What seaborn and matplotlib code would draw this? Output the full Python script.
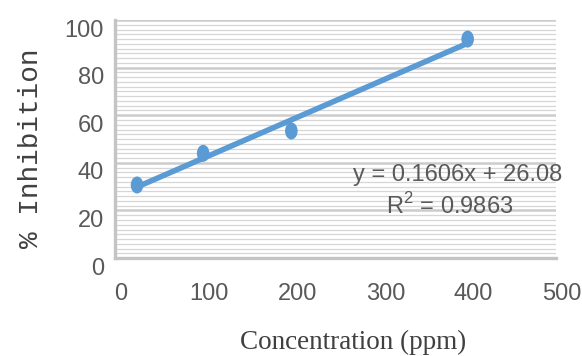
import matplotlib
matplotlib.use("Agg")
import matplotlib.pyplot as plt
import matplotlib.transforms as mtransforms
import seaborn as sns
import numpy as np
import pandas as pd
from matplotlib.path import Path
from matplotlib.ticker import MultipleLocator

concentration = [25, 100, 200, 400]
inhibition = [30.7, 44.0, 53.4, 92.0]
x_ticks = [0, 100, 200, 300, 400, 500]
y_ticks = [0, 20, 40, 60, 80, 100]
equation_text = "y = 0.1606x + 26.08"
r2_text = "R$^2$ = 0.9863"

df = pd.DataFrame({"Concentration": concentration, "Inhibition": inhibition})

sns.set_theme(style="white")
plt.rcParams['font.family'] = ['Liberation Sans', 'DejaVu Sans']
plt.rcParams['mathtext.fontset'] = 'custom'
plt.rcParams['mathtext.rm'] = 'Liberation Sans'

fig = plt.figure(figsize=(5.82, 3.56), dpi=100)
ax = fig.add_axes([0.1976, 0.275, 0.7574, 0.6688])

blue = "#5B9BD5"
circ = Path.unit_circle()
ell = Path(circ.vertices * np.array([1.0, 1.35]), circ.codes)

sns.regplot(data=df, x="Concentration", y="Inhibition", ax=ax, ci=None, truncate=True,
            marker=ell, scatter_kws=dict(s=150, color=blue, edgecolors='none', alpha=1, zorder=4),
            line_kws=dict(color=blue, lw=4.0, solid_capstyle='butt', zorder=3))

ax.set_xlim(0, 500)
ax.set_ylim(0, 100)
ax.set_xticks(x_ticks)
ax.set_yticks(y_ticks)
ax.yaxis.set_minor_locator(MultipleLocator(2))
ax.grid(True, which='major', axis='y', color='#cccccc', lw=1.8, zorder=0)
ax.grid(True, which='minor', axis='y', color='#d6d6d6', lw=0.9, zorder=0)
ax.grid(False, axis='x')
ax.set_axisbelow(True)

for s in ['top', 'right']:
    ax.spines[s].set_visible(False)
for s in ['left', 'bottom']:
    ax.spines[s].set_color('#c4c4c4')
    ax.spines[s].set_linewidth(2.4)

ax.tick_params(axis='both', which='major', length=5, width=2, color='#c4c4c4',
               labelsize=17, labelcolor='#595959', direction='out')
ax.tick_params(axis='x', which='major', pad=13)
ax.tick_params(axis='y', which='major', pad=3)
ax.tick_params(axis='y', which='minor', length=0)

# small offsets of tick labels as seen in the reference
dx = mtransforms.ScaledTranslation(6 / 100, 0, fig.dpi_scale_trans)
for lab in ax.get_xticklabels():
    lab.set_transform(lab.get_transform() + dx)
dy = mtransforms.ScaledTranslation(0, -8 / 100, fig.dpi_scale_trans)
for lab in ax.get_yticklabels():
    lab.set_transform(lab.get_transform() + dy)

ax.set_xlabel("Concentration (ppm)", family=['Liberation Serif'], fontsize=19.5,
              color='#404040')
ax.xaxis.set_label_coords(0.54, -0.3)
ax.set_ylabel("% Inhibition", family=['Liberation Mono'], fontsize=20,
              color='#404040')
ax.yaxis.set_label_coords(-0.16, 0.46)

ax.text(0.778, 0.35, equation_text, transform=ax.transAxes, ha='center', va='center',
        fontsize=17, color='#595959')
ax.text(0.76, 0.218, r2_text, transform=ax.transAxes, ha='center', va='center',
        fontsize=17, color='#595959')

fig.savefig("out.png", dpi=100)
